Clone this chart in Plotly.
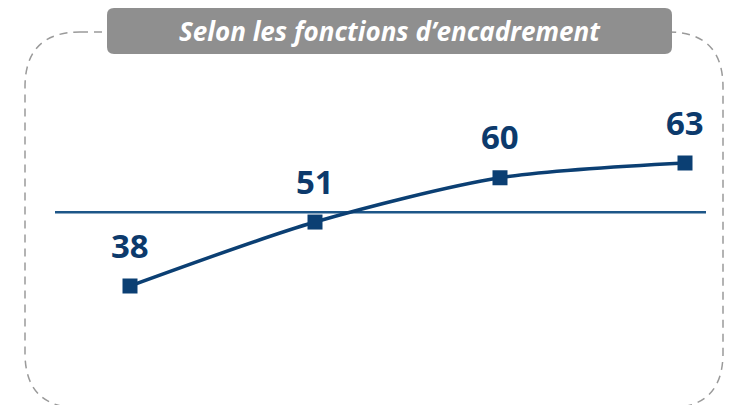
import plotly.graph_objects as go

# ---- data ----
categories = ["Groupe 1", "Groupe 2", "Groupe 3", "Groupe 4"]
values = [38, 51, 60, 63]
labels = [str(v) for v in values]
title_text = "Selon les fonctions d\u2019encadrement"
average = sum(values) / len(values)  # reference line (53)

# ---- style ----
W, H = 731, 405
BLUE = "#0B3F73"
LABEL_BLUE = "#0C3A6C"
REF_BLUE = "#1D5688"
GRAY_BOX = "#8F8F8F"
DASH_GRAY = "#9A9A9A"


def px(x):
    return x / W


def py(y):
    return 1 - y / H


def rounded_rect_path(x0, y0, x1, y1, r):
    # pixel coords (top-left origin) -> paper path
    pts = [
        f"M {px(x0 + r)} {py(y0)}",
        f"L {px(x1 - r)} {py(y0)}",
        f"Q {px(x1)} {py(y0)} {px(x1)} {py(y0 + r)}",
        f"L {px(x1)} {py(y1 - r)}",
        f"Q {px(x1)} {py(y1)} {px(x1 - r)} {py(y1)}",
        f"L {px(x0 + r)} {py(y1)}",
        f"Q {px(x0)} {py(y1)} {px(x0)} {py(y1 - r)}",
        f"L {px(x0)} {py(y0 + r)}",
        f"Q {px(x0)} {py(y0)} {px(x0 + r)} {py(y0)}",
        "Z",
    ]
    return " ".join(pts)


fig = go.Figure()
fig.add_trace(
    go.Scatter(
        x=categories,
        y=values,
        mode="lines+markers",
        line=dict(color=BLUE, width=3.5, shape="spline", smoothing=0.8),
        marker=dict(symbol="square", size=15, color=BLUE),
        hoverinfo="skip",
        showlegend=False,
    )
)

for c, v, t in zip(categories, values, labels):
    fig.add_annotation(
        x=c, y=v, text=f"<b>{t}</b>", showarrow=False,
        yshift=41, yanchor="middle", xanchor="center",
        font=dict(family="Open Sans", size=33, color=LABEL_BLUE),
    )

shapes = []
# dashed rounded border
shapes.append(dict(
    type="path", xref="paper", yref="paper",
    path=rounded_rect_path(25, 32, 723, 408, 55),
    line=dict(color=DASH_GRAY, width=1.5, dash="8px,6px"),
    fillcolor="rgba(0,0,0,0)", layer="below",
))
# average reference line
shapes.append(dict(
    type="line", xref="paper", yref="y",
    x0=px(55), x1=px(706), y0=average, y1=average,
    line=dict(color=REF_BLUE, width=2.5), layer="below",
))
# title box
shapes.append(dict(
    type="path", xref="paper", yref="paper",
    path=rounded_rect_path(107, 8, 672, 54, 7),
    line=dict(width=0), fillcolor=GRAY_BOX, layer="above",
))
fig.update_layout(shapes=shapes)

fig.add_annotation(
    xref="paper", yref="paper", x=px(389.5), y=py(31),
    text=f"<b><i>{title_text}</i></b>", showarrow=False,
    xanchor="center", yanchor="middle",
    font=dict(family="Open Sans", size=26, color="white"),
)

# axis ranges so categories sit at pixels 130, 315, 500, 685 and values map 4.92 px/unit
step = 185.0
x_first = 130.0
y_scale = 123.0 / 25.0
y_ref_px, y_ref_val = 286.0, 38.0

fig.update_layout(
    width=W, height=H,
    margin=dict(l=0, r=0, t=0, b=0),
    paper_bgcolor="white", plot_bgcolor="white",
    xaxis=dict(
        range=[-x_first / step, (W - x_first) / step],
        visible=False, fixedrange=True,
    ),
    yaxis=dict(
        range=[y_ref_val - (H - y_ref_px) / y_scale, y_ref_val + y_ref_px / y_scale],
        visible=False, fixedrange=True,
    ),
)

fig.write_html(
    "out.html",
    config={"displayModeBar": False},
    post_script="document.body.style.margin='0';document.body.style.overflow='hidden';",
)
